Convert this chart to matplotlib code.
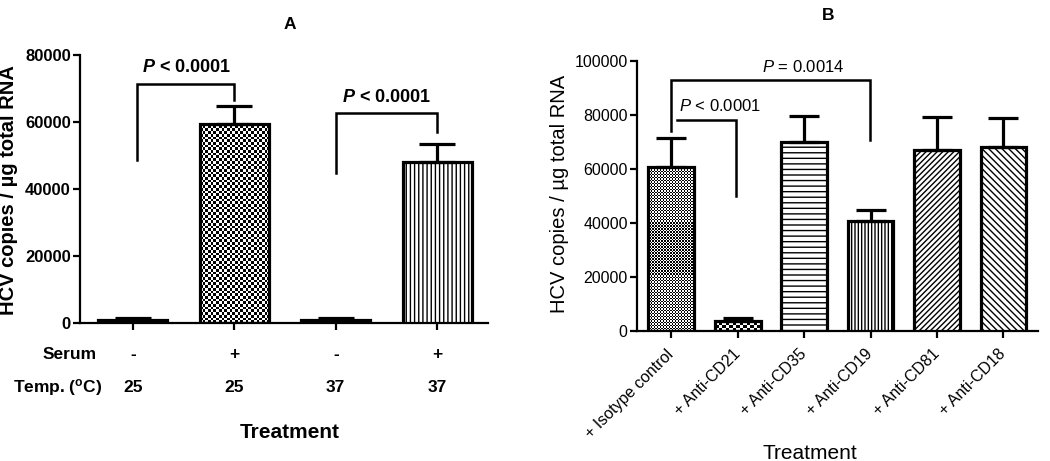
import numpy as np
import matplotlib
matplotlib.use("Agg")
import matplotlib.pyplot as plt

plt.rcParams['font.family'] = ['Liberation Sans', 'DejaVu Sans']
plt.rcParams['mathtext.fontset'] = 'custom'
plt.rcParams['mathtext.rm'] = 'Liberation Sans'
plt.rcParams['mathtext.it'] = 'Liberation Sans:italic'
plt.rcParams['mathtext.bf'] = 'Liberation Sans:bold'
plt.rcParams['mathtext.bfit'] = 'Liberation Sans:italic:bold'
plt.rcParams['hatch.linewidth'] = 1.0

# panel A data
a_serum = ['-', '+', '-', '+']
a_temp = ['25', '25', '37', '37']
a_means = [1000, 59400, 1000, 48000]
a_errs = [400, 5300, 400, 5400]
# brackets: (left idx, right idx, top y, left foot, right foot, label x, label)
a_brackets = [(0.04, 1.0, 71300, 48500, 66300, 0.53, r'$\mathbfit{P}$ < 0.0001'),
              (2.0, 3.0, 62500, 44600, 56800, 2.5, r'$\mathbfit{P}$ < 0.0001')]

# panel B data
b_labels = ['+ Isotype control', '+ Anti-CD21', '+ Anti-CD35', '+ Anti-CD19',
            '+ Anti-CD81', '+ Anti-CD18']
b_means = [60800, 3800, 70100, 40800, 67000, 68100]
b_errs = [10700, 900, 9600, 4000, 12100, 10900]
b_brackets = [(0.0, 2.99, 93000, 74000, 70700, 1.98, r'$P$ = 0.0014'),
              (0.09, 0.97, 78200, 78200, 50000, 0.73, r'$P$ < 0.0001')]

W, H = 1050, 461
fig = plt.figure(figsize=(W / 100, H / 100), dpi=100)
axA = fig.add_axes([80 / W, 1 - 323 / H, 408 / W, 268.5 / H])
axB = fig.add_axes([636.7 / W, 1 - 331 / H, 401.3 / W, 270 / H])


def checker(ax, bar, cw, ch):
    # checkerboard fill clipped to a bar, cell size in pixels
    bar.set_facecolor('none')
    x0, y0 = bar.get_x(), bar.get_y()
    x1, y1 = x0 + bar.get_width(), y0 + bar.get_height()
    p0 = ax.transData.transform((x0, y0))
    p1 = ax.transData.transform((x1, y1))
    nx = max(int(round((p1[0] - p0[0]) / cw)), 1)
    ny = max(int(round((p1[1] - p0[1]) / ch)), 1)
    grid = (np.add.outer(np.arange(ny), np.arange(nx)) % 2).astype(float)
    im = ax.imshow(grid, cmap='gray', extent=(x0, x1, y0, y1), aspect='auto',
                   interpolation='nearest', zorder=2, vmin=0, vmax=1)
    im.set_clip_path(bar)


def style_axis(ax, fs, weight):
    for s in ['top', 'right']:
        ax.spines[s].set_visible(False)
    for s in ['left', 'bottom']:
        ax.spines[s].set_linewidth(1.6)
    ax.tick_params(axis='both', width=1.6, length=5, labelsize=fs)
    ax.tick_params(axis='y', pad=1.5)
    for lab in ax.get_yticklabels():
        lab.set_fontweight(weight)


def brackets(ax, items, lw, fs, weight, gap):
    for xl, xr, ytop, yl, yr, xt, lab in items:
        ax.plot([xl, xl, xr, xr], [yl, ytop, ytop, yr], color='k', lw=lw,
                solid_joinstyle='miter', zorder=5, clip_on=False)
        ax.text(xt, ytop + gap, lab, ha='center', va='bottom',
                fontsize=fs, fontweight=weight)


# ---------- panel A ----------
xa = np.arange(len(a_means))
barsA = axA.bar(xa, a_means, width=0.68, facecolor='white', edgecolor='k',
                linewidth=2.3, zorder=3)
axA.errorbar(xa, a_means, yerr=[np.zeros(len(a_errs)), a_errs], fmt='none',
             ecolor='k', elinewidth=2.3, capsize=13, capthick=2.3, zorder=4)
axA.set_xlim(-0.52, 3.5)
axA.set_ylim(0, 80000)
axA.set_yticks([0, 20000, 40000, 60000, 80000])
axA.set_xticks(xa)
axA.set_xticklabels([])
style_axis(axA, 12, 'bold')
barsA[3].set_hatch('||||')
for b in (barsA[0], barsA[2]):
    b.set_facecolor('k')
checker(axA, barsA[1], 2.7, 2.7)
brackets(axA, a_brackets, 1.8, 13, 'bold', 2200)
axA.set_xlim(-0.52, 3.5)
axA.set_ylim(0, 80000)

axA.set_ylabel('HCV copies / µg total RNA', fontsize=14.5, fontweight='bold')
axA.yaxis.set_label_coords(-0.152, 0.495)
axA.text(0.515, 1.11, 'A', transform=axA.transAxes, ha='center', va='center',
         fontsize=12.5, fontweight='bold')

tr = axA.get_xaxis_transform()
axA.text(0.042, -0.119, 'Serum', transform=axA.transAxes, ha='right',
         va='center', fontsize=12.5, fontweight='bold')
axA.text(0.054, -0.242, r'Temp. ($^{\mathbf{o}}$C)', transform=axA.transAxes,
         ha='right', va='center', fontsize=12.5, fontweight='bold')
for i in range(len(a_means)):
    axA.text(xa[i], -0.119, a_serum[i], transform=tr, ha='center', va='center',
             fontsize=12.5, fontweight='bold')
    axA.text(xa[i], -0.242, a_temp[i], transform=tr, ha='center', va='center',
             fontsize=12.5, fontweight='bold')
axA.text(0.515, -0.406, 'Treatment', transform=axA.transAxes, ha='center',
         va='center', fontsize=15, fontweight='bold')

# ---------- panel B ----------
xb = np.arange(len(b_means))
barsB = axB.bar(xb, b_means, width=0.69, facecolor='white', edgecolor='k',
                linewidth=2.3, zorder=3)
axB.errorbar(xb, b_means, yerr=[np.zeros(len(b_errs)), b_errs], fmt='none',
             ecolor='k', elinewidth=2.3, capsize=10.5, capthick=2.3, zorder=4)
axB.set_xlim(-0.52, 5.52)
axB.set_ylim(0, 100000)
axB.set_yticks([0, 20000, 40000, 60000, 80000, 100000])
axB.set_xticks(xb)
axB.set_xticklabels(b_labels, rotation=45, ha='right', va='center',
                    rotation_mode='anchor', fontsize=12.5)
style_axis(axB, 11.5, 'normal')
axB.tick_params(axis='x', pad=10)
barsB[2].set_hatch('---')
barsB[3].set_hatch('|||||')
barsB[4].set_hatch('//////')
barsB[5].set_hatch('\\\\\\\\\\')
checker(axB, barsB[0], 1.5, 1.5)
checker(axB, barsB[1], 3.5, 2.5)
brackets(axB, b_brackets, 1.8, 12, 'normal', 2000)
axB.set_xlim(-0.52, 5.52)
axB.set_ylim(0, 100000)

axB.set_ylabel('HCV copies / µg total RNA', fontsize=14.5)
axB.yaxis.set_label_coords(-0.168, 0.507)
axB.text(0.477, 1.17, 'B', transform=axB.transAxes, ha='center', va='center',
         fontsize=12.5, fontweight='bold')
axB.text(0.432, -0.452, 'Treatment', transform=axB.transAxes, ha='center',
         va='center', fontsize=15)

fig.savefig('out.png', dpi=100)
